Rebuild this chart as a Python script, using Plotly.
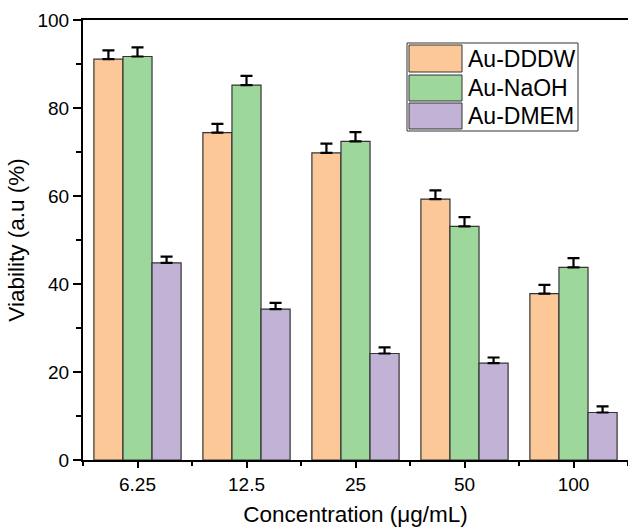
import plotly.graph_objects as go

# Concentrations and viability measurements
concentrations = ["6.25", "12.5", "25", "50", "100"]
series_names = ["Au-DDDW", "Au-NaOH", "Au-DMEM"]
dddw = [91.1, 74.4, 69.8, 59.3, 37.8]
dddw_err = [2.0, 2.0, 2.1, 2.0, 2.0]
naoh = [91.7, 85.2, 72.4, 53.1, 43.8]
naoh_err = [2.1, 2.1, 2.1, 2.1, 2.1]
dmem = [44.8, 34.3, 24.2, 22.0, 10.8]
dmem_err = [1.4, 1.4, 1.4, 1.3, 1.4]

colors = ["#FDC897", "#9ED79C", "#C2B2D6"]
FONT = "Liberation Sans, Arial, sans-serif"

x_pos = list(range(len(concentrations)))
fig = go.Figure()
for name, vals, errs, col in zip(series_names, [dddw, naoh, dmem],
                                 [dddw_err, naoh_err, dmem_err], colors):
    fig.add_trace(go.Bar(
        x=x_pos, y=vals, name=name,
        marker=dict(color=col, line=dict(color="#333333", width=1.2)),
        error_y=dict(type="data", array=errs, symmetric=False,
                     arrayminus=[0] * len(errs),
                     color="black", thickness=2.2, width=6),
        showlegend=False,
    ))

# Hand-drawn legend box with wide swatches
W, H, L, T = 628, 528, 83, 20
PW, PH = W - L, 460 - T

def px(x):
    return (x - L) / PW

def py(y):
    return (460 - y) / PH

shapes = [dict(type="rect", xref="paper", yref="paper",
               x0=px(407), x1=px(578), y0=py(131), y1=py(43),
               line=dict(color="#333333", width=1), fillcolor="white", layer="above")]
annotations = []
rows = [(45, 72), (75, 101), (103, 129)]
for (y0, y1), name, col in zip(rows, series_names, colors):
    shapes.append(dict(type="rect", xref="paper", yref="paper",
                       x0=px(409), x1=px(462), y0=py(y1), y1=py(y0),
                       line=dict(color="#333333", width=1), fillcolor=col, layer="above"))
    annotations.append(dict(xref="paper", yref="paper", x=px(466), y=py((y0 + y1) / 2),
                            text=name, showarrow=False, xanchor="left", yanchor="middle",
                            font=dict(family=FONT, size=23, color="black")))

fig.update_layout(
    width=W, height=H,
    margin=dict(l=L, r=0, t=T, b=H - 460),
    paper_bgcolor="white", plot_bgcolor="white",
    barmode="group", bargap=0.2, bargroupgap=0,
    font=dict(family=FONT, color="black"),
    shapes=shapes, annotations=annotations,
    xaxis=dict(
        range=[-0.5, 4.5], tickmode="array", tickvals=x_pos, ticktext=concentrations,
        showline=True, linecolor="black", linewidth=2, mirror=True,
        ticks="outside", ticklen=6, tickwidth=1.5, tickcolor="black",
        minor=dict(tickmode="linear", tick0=-0.5, dtick=1, ticks="outside",
                   ticklen=4, tickwidth=1.5, tickcolor="black"),
        showgrid=False, zeroline=False,
        tickfont=dict(size=19),
        title=dict(text="Concentration (μg/mL)", font=dict(size=22.5), standoff=12),
    ),
    yaxis=dict(
        range=[0, 100], dtick=20,
        showline=True, linecolor="black", linewidth=2,
        ticks="outside", ticklen=8, tickwidth=1.5, tickcolor="black",
        minor=dict(dtick=10, ticks="outside", ticklen=5, tickwidth=1.5, tickcolor="black"),
        showgrid=False, zeroline=False,
        tickfont=dict(size=19),
        title=dict(text="Viability (a.u (%)", font=dict(size=22.5), standoff=7),
    ),
)

fig.write_html("out.html")
